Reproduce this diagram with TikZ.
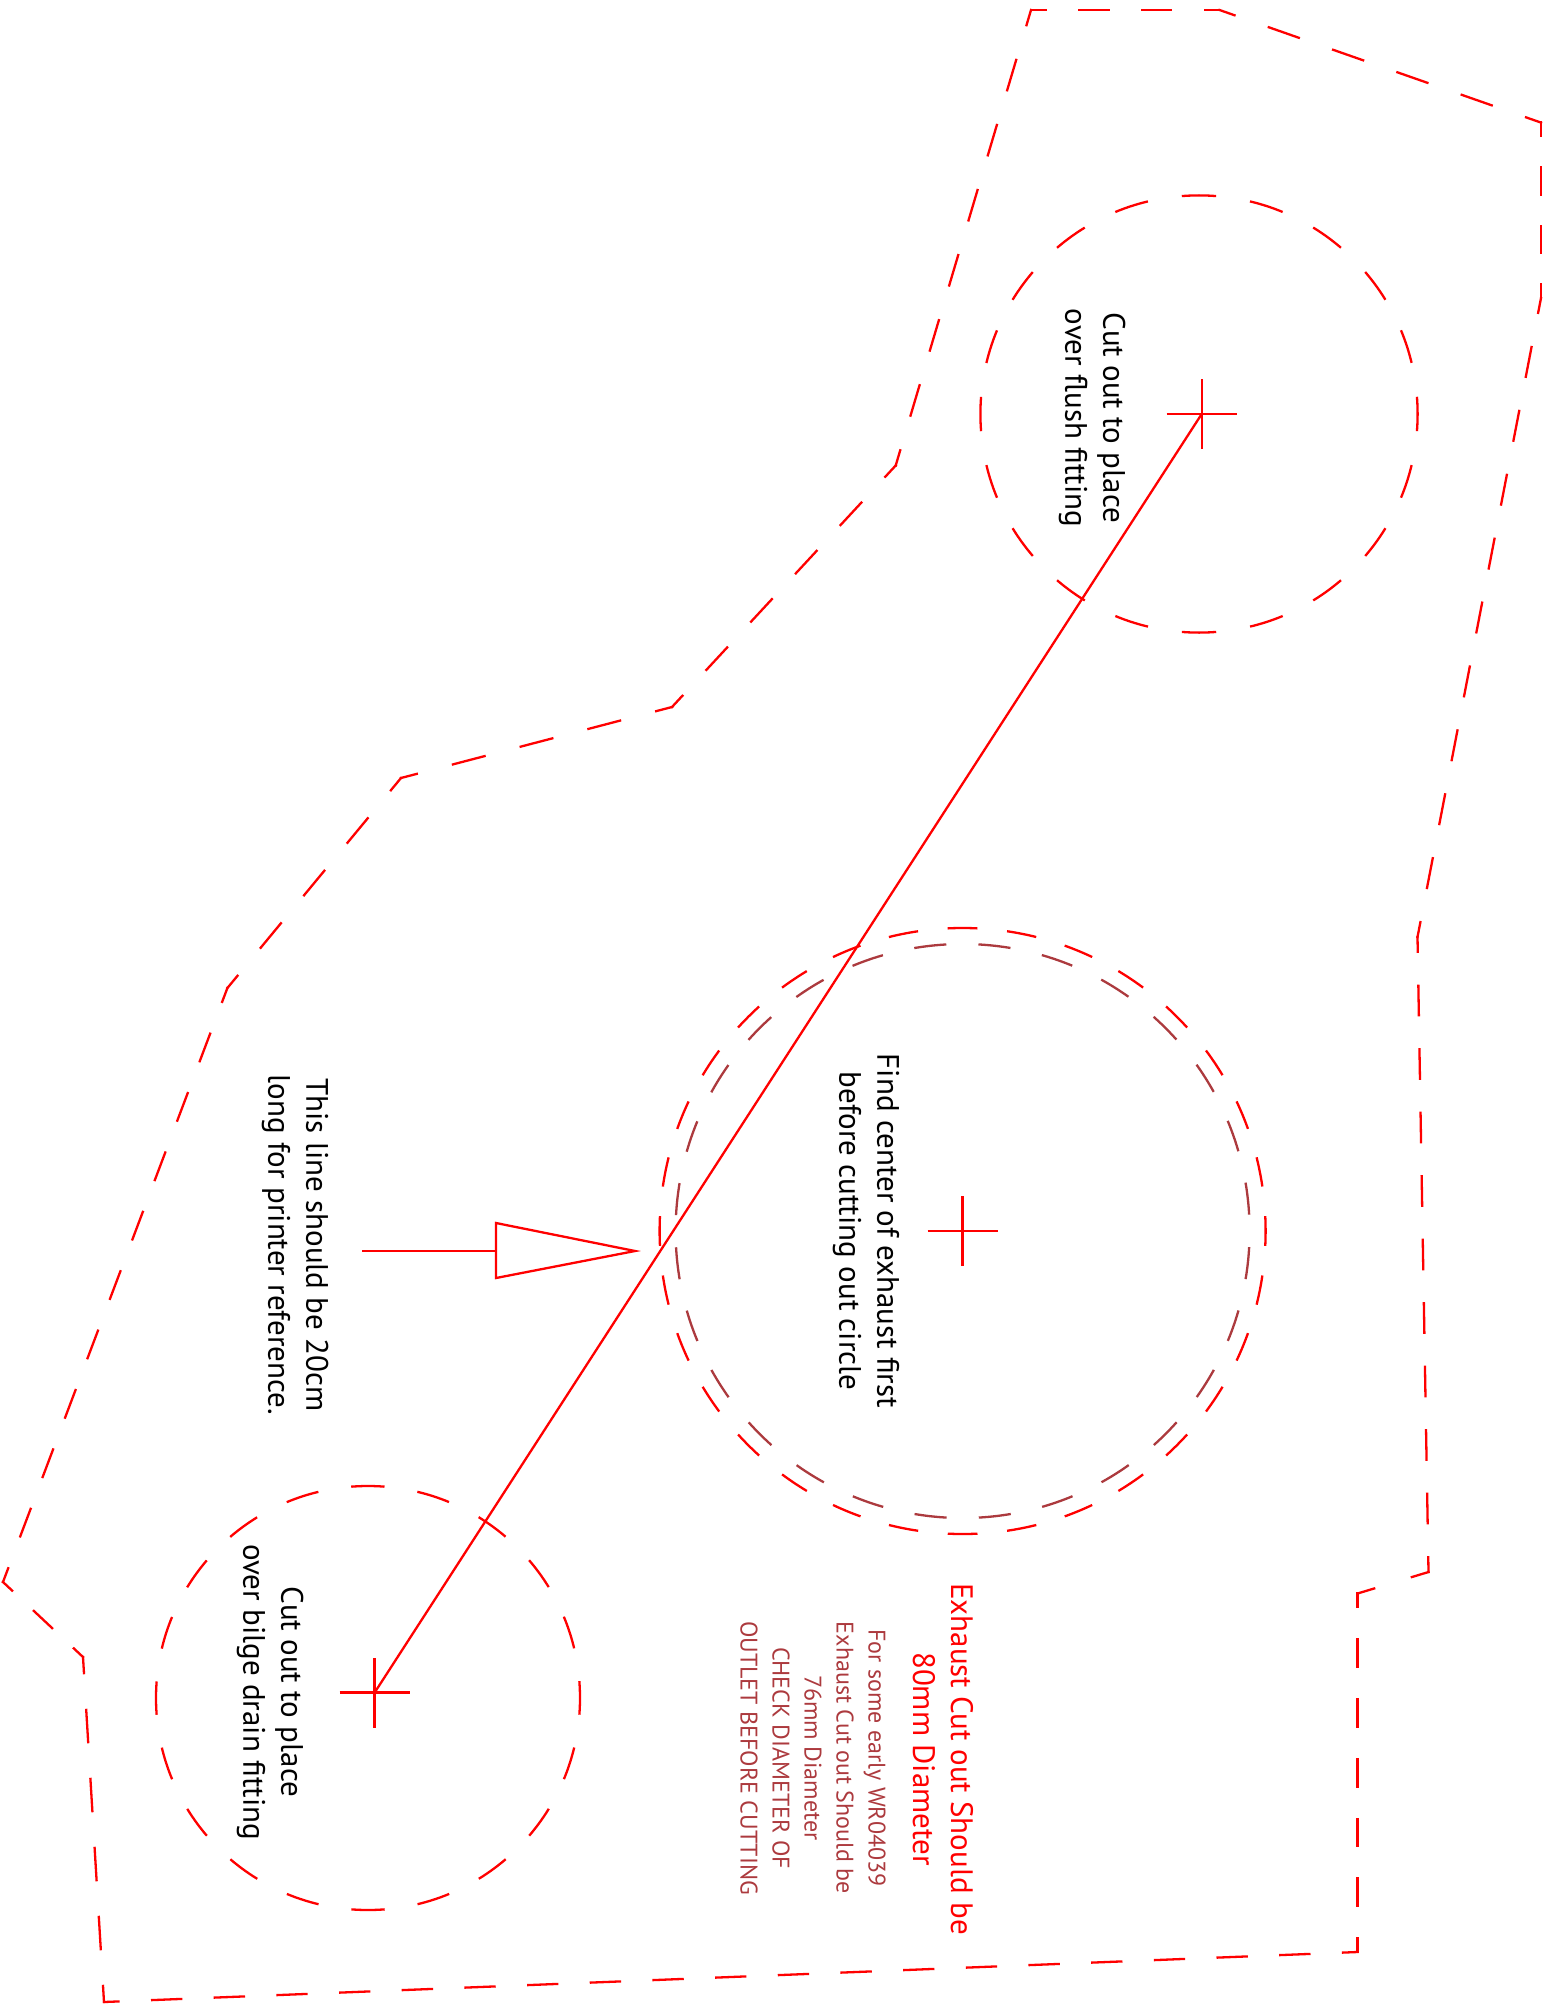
\documentclass[tikz,border=0pt]{standalone}
\usepackage{fontspec}
\setmainfont{PT Sans}
\definecolor{brownred}{RGB}{172,58,62}
\tikzset{
  cutline/.style={draw=red,line width=2.3pt,line cap=rect},
  flushring/.style={draw=red,line width=2.3pt,dash pattern=on 34.34pt off 34.34pt,dash phase=17.17pt},
  bilgering/.style={draw=red,line width=2.3pt,dash pattern=on 33.3pt off 33.3pt,dash phase=16.65pt},
  exhaustring/.style={draw=red,line width=2.3pt,dash pattern=on 29.75pt off 29.75pt,dash phase=14.87pt},
  innerring/.style={draw=brownred,line width=2.3pt,dash pattern=on 32.2pt off 32.2pt,dash phase=48.3pt},
  solidred/.style={draw=red,line width=2.3pt},
  note/.style={rotate=-90,align=center,font=\fontsize{31}{38}\selectfont,inner sep=0pt,text=black},
  rednote/.style={note,text=red},
  smallnote/.style={rotate=-90,align=center,font=\fontsize{24}{32}\selectfont,inner sep=0pt,text=brownred}
}
\begin{document}
\begin{tikzpicture}[x=1pt,y=-1pt]
\useasboundingbox (0,0) rectangle (1543,2004);
% outline: every side has its own dash length, with a dash centred on each corner
\foreach \ax/\ay/\bx/\by/\cnt in {
  1031/10/1219.5/10/3,
  1219.5/10/1541/122.6/5,
  1541/122.6/1541/298/3,
  1541/298/1417.5/937/10,
  1417.5/937/1428.5/1572/10,
  1428.5/1572/1357.5/1593.5/1,
  1357.5/1593.5/1357.5/1952/6,
  1357.5/1952/104/2002/20,
  104/2002/83/1657/5,
  83/1657/3/1582/2,
  3/1582/227.4/988/10,
  227.4/988/401/778/4,
  401/778/672/707/4,
  672/707/895.7/465.5/5,
  895.7/465.5/1031/10/7}{
  \pgfmathsetmacro\halfper{veclen(\bx-\ax,\by-\ay)/\cnt/2}
  \pgfmathsetmacro\dashon{\halfper-2.3}
  \pgfmathsetmacro\dashoff{\halfper+2.3}
  \pgfmathsetmacro\dashph{\dashon/2}
  \draw[cutline,dash pattern=on \dashon pt off \dashoff pt,dash phase=\dashph pt] (\ax,\ay) -- (\bx,\by);
}
\draw[flushring] (1199,414) circle[radius=218.6];
\draw[exhaustring] (962.6,1231) circle[radius=303];
\draw[innerring] (962.6,1231) circle[radius=287];
\draw[bilgering] (368,1698) circle[radius=212];
\coordinate (topc) at (1201.7,414);
\coordinate (midc) at (962.6,1231);
\coordinate (botc) at (374.6,1692.6);
\foreach \c in {topc,midc,botc}{
  \draw[solidred] ([xshift=-35pt]\c) -- ([xshift=35pt]\c);
  \draw[solidred] ([yshift=-35pt]\c) -- ([yshift=35pt]\c);
}
\draw[solidred] (botc) -- (topc);
\coordinate (arrstart) at (362,1251);
\coordinate (arrbase) at (496,1251);
\draw[solidred] (arrstart) -- (arrbase);
\draw[solidred] (496,1223) -- (635,1251) -- (496,1278) -- cycle;
\node[note] (n1) at (1092,418) {Cut out to place\\over flush fitting};
\node[note] (n2) at (866,1231) {Find center of exhaust first\\before cutting out circle};
\node[note] (n3) at (295,1245) {This line should be 20cm\\long for printer reference.};
\node[note] (n4) at (270,1692) {Cut out to place\\over bilge drain fitting};
\node[rednote] (n5) at (943,1759) {Exhaust Cut out Should be\\80mm Diameter};
\node[smallnote] (n6) at (813,1758) {For some early WR04039\\Exhaust Cut out Should be\\76mm Diameter\\CHECK DIAMETER OF\\OUTLET BEFORE CUTTING};
\end{tikzpicture}
\end{document}
